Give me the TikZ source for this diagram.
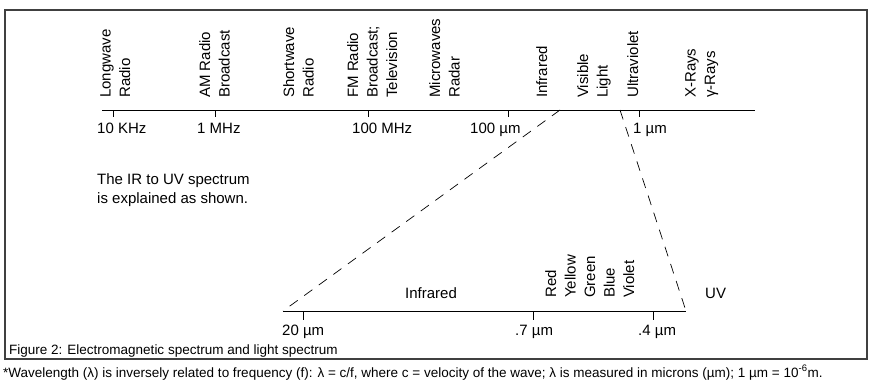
\documentclass[tikz,border=0pt]{standalone}
\usepackage{fontspec}
\setmainfont{Liberation Sans}
\usetikzlibrary{positioning}
\newcommand{\bandfont}{\fontsize{15}{19.5}\selectfont}
\newcommand{\notefont}{\fontsize{13.5}{16}\selectfont}
\tikzset{
  band/.style={rotate=90, anchor=north west, align=left, inner sep=0pt, font=\bandfont},
  scalelabel/.style={anchor=base west, inner sep=0pt, font=\bandfont},
  axis/.style={line width=1pt},
  tick/.style={line width=0.8pt},
  zoomline/.style={line width=0.7pt, dash pattern=on 10pt off 8pt},
  frame/.style={draw=black!75, line width=2pt},
}
\begin{document}
\begin{tikzpicture}[x=1pt, y=-1pt]
            \useasboundingbox (0,0) rectangle (878,389);
            \draw[frame] (5,10) rectangle (867,359);

            % Electromagnetic scale
            \coordinate (em-start) at (102,110);
            \coordinate (em-end) at (755,110);
            \draw[axis] (em-start) -- (em-end);
            \foreach \x/\name in {113/khz, 215/mhz, 368/hmhz, 508/hum, 639/oum} {
                \coordinate (t-\name) at (\x,110);
                \draw[tick] (t-\name) -- ++(0,7);
            }

            \node[band] (longwave) at (100,98) {Longwave\\Radio};
            \node[band] (am) at (199,98) {AM Radio\\Broadcast};
            \node[band] (shortwave) at (283,98) {Shortwave\\Radio};
            \node[band] (fm) at (347,98) {FM Radio\\Broadcast;\\Television};
            \node[band] (micro) at (429,98) {Microwaves\\Radar};
            \node[band] (ir) at (536,98) {Infrared};
            \node[band] (visible) at (577,98) {Visible\\Light};
            \node[band] (uv) at (627,98) {Ultraviolet};
            \node[band] (xray) at (685,98) {X-Rays\\γ-Rays};

            \node[scalelabel] (l-khz) at (97,133) {10 KHz};
            \node[scalelabel] (l-mhz) at (197,133) {1 MHz};
            \node[scalelabel] (l-hmhz) at (352,133) {100 MHz};
            \node[scalelabel] (l-hum) at (470,133) {100 µm};
            \node[scalelabel] (l-oum) at (633,133) {1 µm};

            \node[scalelabel, align=left, anchor=north west] (note) at (97,173)
                {The IR to UV spectrum\\is explained as shown.};

            % Light scale
            \coordinate (ir-start) at (283,311);
            \coordinate (ir-end) at (686,311);
            \draw[axis] (ir-start) -- (ir-end);
            \foreach \x/\name in {303/twenty, 533/seven, 653/four} {
                \coordinate (s-\name) at (\x,311);
                \draw[tick] (s-\name) -- ++(0,9);
            }
            \node[scalelabel] (l-twenty) at (282,335) {20 µm};
            \node[scalelabel] (l-seven) at (515,335) {.7 µm};
            \node[scalelabel] (l-four) at (638,335) {.4 µm};
            \node[scalelabel] (l-ir) at (405,298) {Infrared};
            \node[band] (colours) at (545,298) {Red\\Yellow\\Green\\Blue\\Violet};
            \node[scalelabel] (l-uv) at (705,298) {UV};

            % Zoom from the top scale
            \coordinate (zoom-left) at (560,110);
            \coordinate (zoom-right) at (620,110);
            \draw[zoomline] (zoom-left) -- (ir-start);
            \draw[zoomline] (zoom-right) -- (ir-end);

            \node[anchor=base west, inner sep=0pt, font=\notefont] (caption) at (9,354)
                {Figure 2: Electromagnetic spectrum and light spectrum};
            \node[anchor=base west, inner sep=0pt, font=\notefont] (footnote) at (3,377)
                {*Wavelength (λ) is inversely related to frequency (f): λ = c/f, where c = velocity of the wave; λ is measured in microns (µm); 1 µm = 10\textsuperscript{-6}m.};
     \end{tikzpicture}
\end{document}
